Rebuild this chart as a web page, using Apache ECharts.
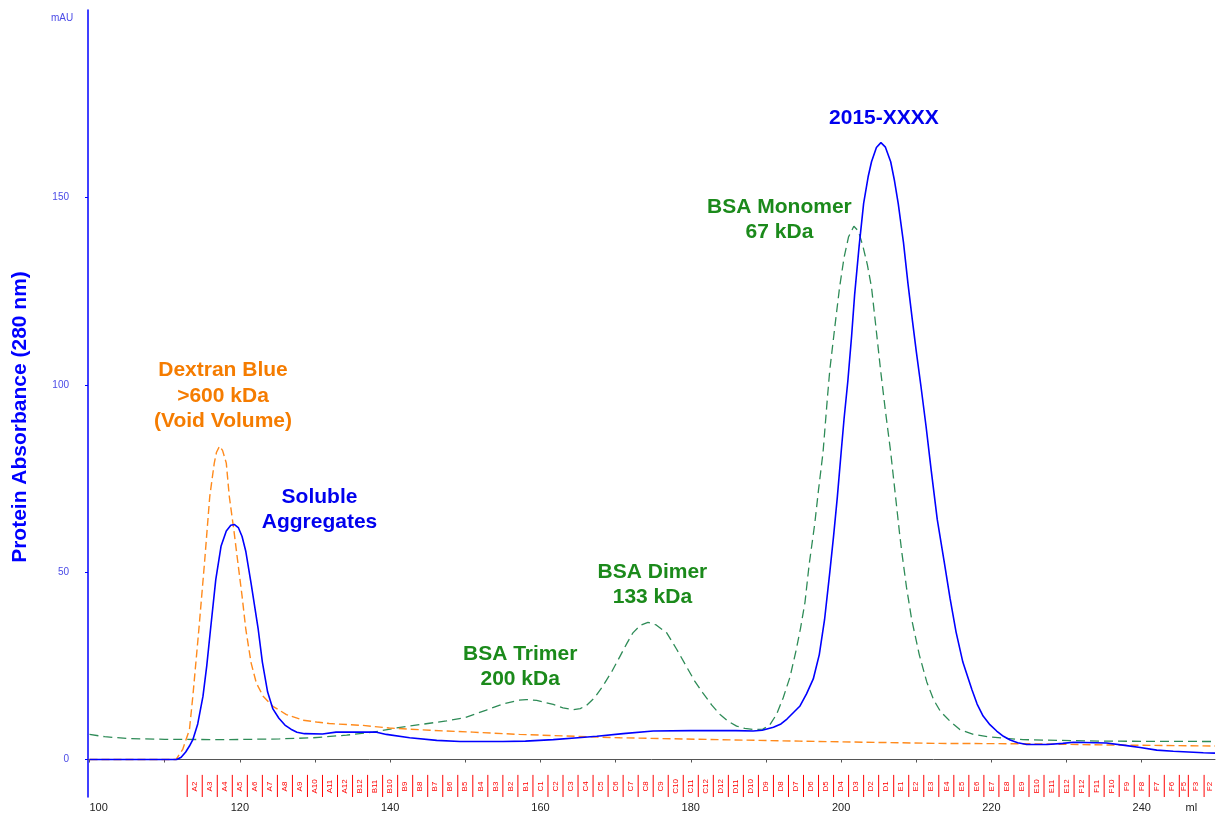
<!DOCTYPE html>
<html><head><meta charset="utf-8">
<script src="https://cdn.jsdelivr.net/npm/echarts@6.0.0/dist/echarts.min.js"></script>
<style>html,body{margin:0;padding:0;background:#fff}#c{width:1218px;height:815px}</style>
</head><body><div id="c"></div>
<script>
// ---- Data ----
// Sample 2015-XXXX (blue, solid)
const sampleMl = [100,111.6,112.2,112.8,113.3,113.75,114.4,115.1,115.6,116.1,116.8,117.5,118.2,118.8,119.3,119.8,120.3,120.8,121.5,122.45,123.0,123.7,124.4,125.2,126.0,126.8,127.6,128.6,131.0,132.8,138.2,139.5,142.6,146.2,149.3,155,158,161.7,165,167.5,171,175,180,186,188.3,189.5,191.0,192.0,192.8,193.7,194.5,195.4,196.3,197.1,197.8,198.5,199.0,199.5,200.0,200.4,200.9,201.4,201.8,202.4,203.0,203.6,204.05,204.7,205.3,205.9,206.6,207.1,207.6,208.3,208.9,209.5,210.0,210.6,211.3,212.0,212.8,213.7,214.5,215.3,216.2,217.4,218.1,218.9,219.8,220.7,221.6,222.5,223.5,224.7,227.4,229.5,230.9,235.3,238.0,239.8,242.0,244.2,248.2,249.75];
const sampleMau = [0,0,0.6,2,3.6,5.3,9.5,16.9,25,34.7,48,56.9,61,62.5,62.7,61.9,59.5,55.5,47,34.7,26,18,13.5,11,9.2,8.1,7.3,6.9,6.8,7.3,7.3,6.7,5.8,5.1,4.8,4.8,4.9,5.3,5.8,6.2,6.9,7.6,7.7,7.7,7.6,7.8,8.6,9.5,10.8,12.6,14.2,17.5,21.5,28,37.3,50,59.6,70,81.8,91,101,113,124,137,148.4,155.5,159.5,163.3,164.6,163.4,159.5,154.5,148.4,138,127,117,109,100,89,77,64,53,43,34,26,18.7,14.8,11.6,9.3,7.6,6.2,5.2,4.5,4.0,4.0,4.3,4.6,4.4,3.7,3.2,2.5,2.2,1.8,1.7];
// Dextran Blue (orange, dashed)
const dextranMl = [100,111.5,112.4,113.3,113.75,114.55,115.3,116.0,116.6,116.9,117.3,117.7,118.2,118.6,119.2,119.75,120.3,120.8,121.5,122.2,123.1,124.4,126.2,128.4,130.2,131.9,136.4,139.9,145.3,151,157.2,170.6,194.5,213,225,235,249.75];
const dextranMau = [0,0,2.7,8,16.9,34.7,52.4,70.2,79.1,82,83.6,82.5,79.1,70.2,61.3,52.4,43.6,34.7,25.8,20.4,16.9,14.2,12,10.5,10.0,9.6,9.1,8.4,7.8,7.3,6.7,5.8,4.9,4.3,4.2,3.9,3.6];
// BSA standard (green, dashed)
const bsaMl = [100,102,105,110,118,125.3,129.7,134.2,137.7,140.8,143.9,147.5,150,152.8,155,157,158.1,159.5,161.7,163,164.3,165.3,166.1,167.2,168.3,169.5,170.6,171.5,172.3,173.3,174.3,175.4,176.8,178.1,179.4,180.5,181.6,182.8,183.9,185,186.1,187.2,188.3,189.6,190.5,191.4,192.3,193.2,194.0,194.6,195.2,195.75,196.5,197.0,197.6,198.2,198.5,199.2,199.8,200.4,201.0,201.7,202.3,202.9,203.5,204.05,204.6,205.25,205.9,206.6,207.2,207.8,208.1,208.7,209.4,210.4,211.4,212.3,213.2,214.5,215.8,217.6,219.8,224.2,235,249.75];
const bsaMau = [6.7,6.1,5.6,5.4,5.3,5.5,5.8,6.5,7.3,8.4,9.3,10.3,11.2,13.2,14.8,15.8,16,15.8,14.7,13.8,13.3,13.6,14.4,16.5,19.6,23.5,27.6,31,33.8,35.8,36.6,35.9,33.8,29.5,24.9,21,17.8,14.5,12,10.2,8.9,8.3,8.0,8.1,9.2,12,16.5,22,29,35,42,52,63,72,82,97,104,116,126,134,139.5,142.3,141,137,132,126,116,104,93,82,71,60,55,46,37.3,28,20.7,16,12.9,10.2,8,6.7,6.0,5.3,4.9,4.8];
// Fraction collector marks
const fractionNames = ['A2','A3','A4','A5','A6','A7','A8','A9','A10','A11','A12','B12','B11','B10','B9','B8','B7','B6','B5','B4','B3','B2','B1','C1','C2','C3','C4','C5','C6','C7','C8','C9','C10','C11','C12','D12','D11','D10','D9','D8','D7','D6','D5','D4','D3','D2','D1','E1','E2','E3','E4','E5','E6','E7','E8','E9','E10','E11','E12','F12','F11','F10','F9','F8','F7','F6','F5','F3','F2'];
const fractionStartMl = [113,115,117,119,121,123,125,127,129,131,133,135,137,139,141,143,145,147,149,151,153,155,157,159,161,163,165,167,169,171,173,175,177,179,181,183,185,187,189,191,193,195,197,199,201,203,205,207,209,211,213,215,217,219,221,223,225,227,229,231,233,235,237,239,241,243,245,246.2,248.3];
// Axis ticks
const xTickValues = [100,110,120,130,140,150,160,170,180,190,200,210,220,230,240];
const xLabelValues = [100,120,140,160,180,200,220,240];
const yTickValues = [0,50,100,150];

// ---- Build ----
const X_MIN = 99.8, X_MAX = 249.75;
const pairs = (xs, ys) => xs.map((x, i) => [x, ys[i]]);
const fractionData = fractionStartMl.map((s, i) => [s, i + 1 < fractionStartMl.length ? fractionStartMl[i + 1] : X_MAX, -7]);
const FONT = '"Liberation Sans", Arial, sans-serif';
const annLabel = (color) => ({
  show: true, position: 'inside', formatter: '{b}', color: color,
  fontSize: 21, fontWeight: 'bold', lineHeight: 25.5, fontFamily: FONT, align: 'center', verticalAlign: 'middle'
});

const chart = echarts.init(document.getElementById('c'), null, {renderer: 'canvas'});
chart.setOption({
  animation: false,
  backgroundColor: '#ffffff',
  grid: {left: 88, right: 3, top: 10, bottom: 18, outerBoundsMode: 'none'},
  xAxis: {
    type: 'value', min: X_MIN, max: X_MAX,
    axisLine: {show: true, lineStyle: {color: '#555', width: 1}},
    axisTick: {show: true, customValues: xTickValues, length: 3, lineStyle: {color: '#555'}},
    axisLabel: {
      customValues: xLabelValues.concat([246.6]),
      formatter: v => (v > 245 ? 'ml' : String(v)),
      color: '#222', fontSize: 11, margin: 5, fontFamily: FONT, alignMinLabel: 'left'
    },
    splitLine: {show: false}
  },
  yAxis: {
    type: 'value', min: -10, max: 200,
    axisLine: {show: true, lineStyle: {color: '#0000ff', width: 1.5}},
    axisTick: {show: true, customValues: yTickValues, length: 3, lineStyle: {color: '#0000ff'}},
    axisLabel: {customValues: yTickValues, color: '#4a4ae6', fontSize: 10, margin: 19, fontFamily: FONT},
    splitLine: {show: false},
    name: 'Protein Absorbance (280 nm)', nameLocation: 'middle', nameGap: 57,
    nameTextStyle: {color: '#0000ff', fontSize: 21, fontWeight: 'bold', fontFamily: FONT, padding: [0, 27, 0, 0]}
  },
  graphic: [{
    type: 'text', left: 51, top: 13,
    style: {text: 'mAU', fill: '#4a4ae6', font: '10px ' + FONT}
  }],
  series: [
    {
      name: 'BSA standard', type: 'line', data: pairs(bsaMl, bsaMau), showSymbol: false, z: 2,
      smooth: false,
      lineStyle: {color: '#2e8b57', width: 1.3, type: [9, 5]},
      markPoint: {
        symbol: 'circle', symbolSize: 0, silent: true, label: annLabel('#1b8a1b'),
        data: [
          {name: 'BSA Trimer\n200 kDa', coord: [157.3, 24.8]},
          {name: 'BSA Dimer\n133 kDa', coord: [174.9, 46.6]},
          {name: 'BSA Monomer\n67 kDa', coord: [191.8, 144.1]}
        ]
      }
    },
    {
      name: 'Dextran Blue', type: 'line', data: pairs(dextranMl, dextranMau), showSymbol: false, z: 3,
      smooth: false,
      lineStyle: {color: '#ff8a1c', width: 1.4, type: [8, 4]},
      markPoint: {
        symbol: 'circle', symbolSize: 0, silent: true, label: annLabel('#f57c00'),
        data: [{name: 'Dextran Blue\n>600 kDa\n(Void Volume)', coord: [117.76, 97.0]}]
      }
    },
    {
      name: '2015-XXXX', type: 'line', data: pairs(sampleMl, sampleMau), showSymbol: false, z: 4,
      smooth: false,
      lineStyle: {color: '#0000ff', width: 1.6},
      markPoint: {
        symbol: 'circle', symbolSize: 0, silent: true, label: annLabel('#0000ee'),
        data: [
          {name: 'Soluble\nAggregates', coord: [130.6, 66.7]},
          {name: '2015-XXXX', coord: [205.7, 171.2]}
        ]
      }
    },
    {
      name: 'Fractions', type: 'custom', data: fractionData, clip: false, silent: true, z: 5,
      encode: {x: [0, 1], y: 2},
      renderItem: (params, api) => {
        const s = api.value(0), e = api.value(1);
        const top = api.coord([s, -4.1]);
        const bot = api.coord([s, -10]);
        const mid = api.coord([(s + e) / 2, -7.2]);
        return {
          type: 'group',
          children: [
            {type: 'line', shape: {x1: top[0], y1: top[1], x2: bot[0], y2: bot[1]}, style: {stroke: '#ff0000', lineWidth: 1}},
            {type: 'text', x: mid[0], y: mid[1], rotation: Math.PI / 2,
             style: {text: fractionNames[params.dataIndex], fill: '#ff0000', font: '8px ' + FONT, align: 'center', verticalAlign: 'middle'}}
          ]
        };
      }
    }
  ]
});
</script></body></html>
